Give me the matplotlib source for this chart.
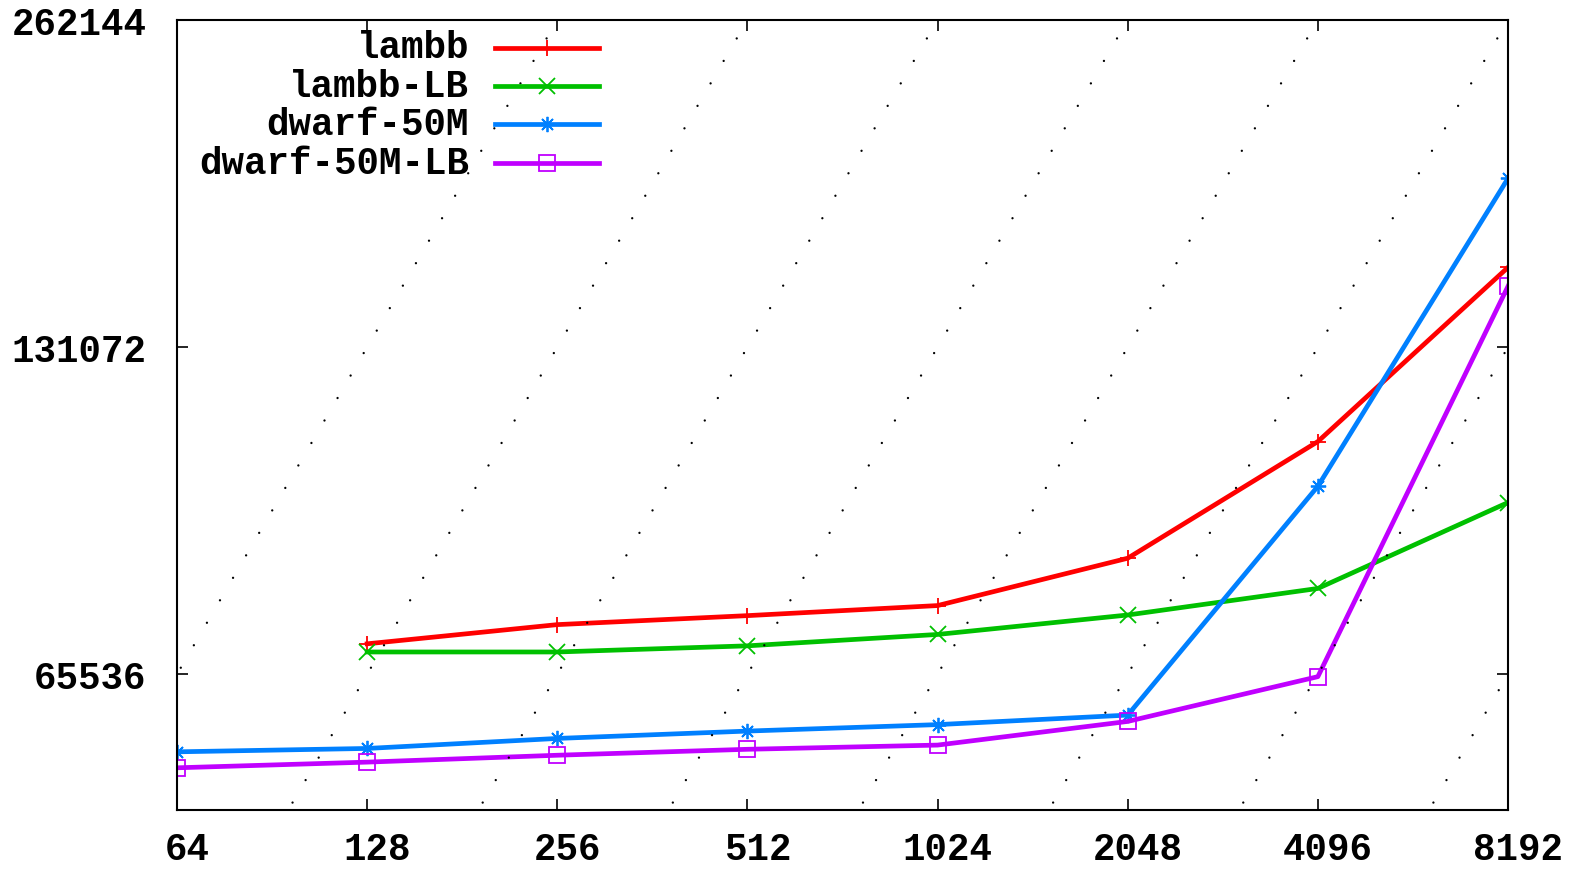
import matplotlib
matplotlib.use("Agg")
import matplotlib.pyplot as plt
import matplotlib.transforms as mtransforms
from matplotlib.lines import Line2D

# x values (log2 axis)
sizes = [64, 128, 256, 512, 1024, 2048, 4096, 8192]
sizes_lambb = [128, 256, 512, 1024, 2048, 4096, 8192]

# series
lambb = [69900, 72800, 74200, 75800, 83800, 107300, 155200]
lambb_lb = [68700, 68700, 69600, 71300, 74300, 78600, 94300]
dwarf = [55600, 56000, 57200, 58100, 58900, 60100, 97600, 187400]
dwarf_lb = [53750, 54400, 55200, 55900, 56400, 59300, 65200, 149100]

# reference lines y = c * x
ref_consts = [8, 16, 32, 64, 128, 256, 512, 1024]

xticks = [64, 128, 256, 512, 1024, 2048, 4096, 8192]
xticklabels = ["64", "128", "256", "512", "1024", "2048", "4096", "8192"]
yticks = [65536, 131072, 262144]
yticklabels = ["65536", "131072", "262144"]

plt.rcParams['font.family'] = ['Liberation Mono', 'DejaVu Sans Mono']
plt.rcParams['font.weight'] = 'bold'
fs = 27

W, H = 1583, 870
fig = plt.figure(figsize=(W / 100, H / 100), dpi=100)
ax = fig.add_axes([177 / W, 1 - 811 / H, (1508 - 177) / W, (811 - 21) / H])
ax.set_xscale('log', base=2)
ax.set_yscale('log', base=2)

lw = 3.4
mk = dict(markersize=11, markeredgewidth=1.3)
series = [
    (sizes_lambb, lambb, '#ff0000', '+', 'lambb'),
    (sizes_lambb, lambb_lb, '#00c000', 'x', 'lambb-LB'),
    (sizes, dwarf, '#0080ff', (8, 2, 0), 'dwarf-50M'),
    (sizes, dwarf_lb, '#c000ff', 's', 'dwarf-50M-LB'),
]
for xv, yv, col, m, name in series:
    ax.plot(xv, yv, color=col, lw=lw, marker=m, markerfacecolor='none', **mk)

# dotted guide lines
xs = [32, 16384]
for c in ref_consts:
    ax.plot(xs, [c * v for v in xs], color='black', lw=1.7, linestyle=(0, (0.01, 11.0)),
            dash_capstyle='round', zorder=3)

ax.set_xlim(64, 8192)
ax.set_ylim(49152, 262144)

ax.set_xticks(xticks)
ax.set_xticklabels(xticklabels)
ax.set_yticks(yticks)
ax.set_yticklabels(yticklabels)
ax.minorticks_off()
ax.tick_params(direction='in', length=8, width=1.2, top=True, right=True,
               labelsize=fs, colors='black')
ax.tick_params(axis='x', pad=15)
ax.tick_params(axis='y', pad=22)
for s in ax.spines.values():
    s.set_linewidth(1.5)

shift = mtransforms.ScaledTranslation(10 / 100, 0, fig.dpi_scale_trans)
for lab in ax.get_xticklabels():
    lab.set_transform(lab.get_transform() + shift)

# key, gnuplot style: right aligned names, sample line to the right
row_y = 48.5
for xv, yv, col, m, name in series:
    fy = 1 - row_y / H
    fig.text(469 / W, fy, name, ha='right', va='center', fontsize=fs)
    fig.add_artist(Line2D([495 / W, 599 / W], [fy, fy], color=col, lw=lw,
                          transform=fig.transFigure))
    fig.add_artist(Line2D([547 / W], [fy], color=col, marker=m, markerfacecolor='none',
                          transform=fig.transFigure, **mk))
    row_y += 38.4

fig.savefig("out.png", dpi=100)
